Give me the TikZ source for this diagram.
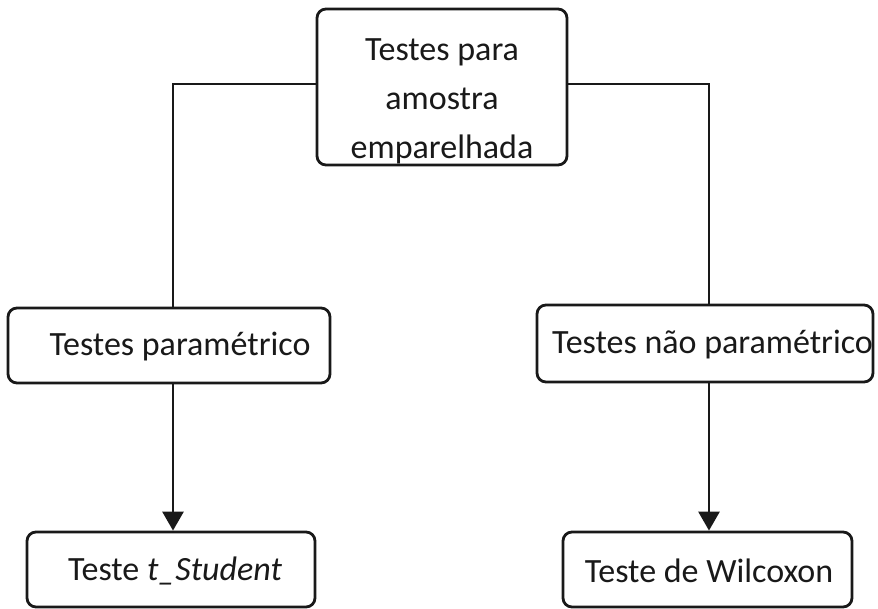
\documentclass[tikz,border=0pt]{standalone}
\usepackage{fontspec}
\setmainfont{Carlito}
\usetikzlibrary{arrows.meta}
\begin{document}
\begin{tikzpicture}[x=1pt,y=-1pt,
  box/.style={draw=black!90,line width=2.8pt,rounded corners=9pt,inner sep=0pt,fill=white},
  conn/.style={draw=black!90,line width=2.8pt},
  arr/.style={draw=black!90,line width=2.8pt,-{Triangle[length=19pt,width=21pt]}},
  lbl/.style={font=\fontsize{34}{40}\selectfont,inner sep=0pt,text=black!90}]
\useasboundingbox (0,0) rectangle (878,609);
% boxes
\node[box,minimum width=250pt,minimum height=156pt] (top) at (442,87) {};
\node[box,minimum width=322pt,minimum height=75pt] (pm) at (169,345.5) {};
\node[box,minimum width=336pt,minimum height=77pt] (npm) at (705,343.5) {};
\node[box,minimum width=288pt,minimum height=75pt] (ts) at (171,569.5) {};
\node[box,minimum width=289pt,minimum height=75pt] (wc) at (707.5,569.5) {};
% texts
\node[lbl,align=center,font=\fontsize{34}{49}\selectfont] (toptxt) at (442,101) {Testes para\\amostra\\emparelhada};
\node[lbl] (pmtxt) at (180,347) {Testes paramétrico};
\node[lbl,anchor=west] (npmtxt) at (552,345) {Testes não paramétrico};
\node[lbl] (tstxt) at (175,571) {Teste \textit{t\_Student}};
\node[lbl] (wctxt) at (709,571) {Teste de Wilcoxon};
% connectors
\coordinate (cl) at (173,84);
\coordinate (cr) at (709,84);
\draw[conn] (top.west |- cl) -- (cl) -- (cl |- pm.north);
\draw[conn] (top.east |- cr) -- (cr) -- (cr |- npm.north);
\draw[arr] (pm.south -| cl) -- (cl |- ts.north);
\draw[arr] (npm.south -| cr) -- (cr |- wc.north);
\end{tikzpicture}
\end{document}
